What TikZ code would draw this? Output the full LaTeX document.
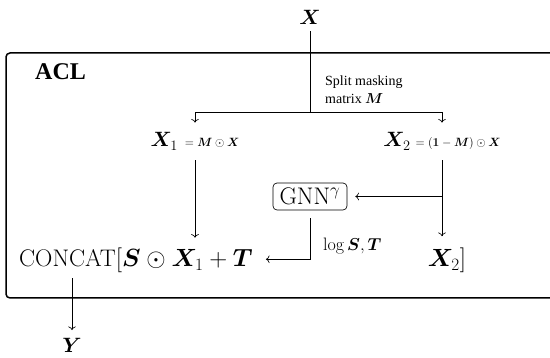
\documentclass[tikz,border=0pt]{standalone}
\usepackage{amsmath}
\usepackage{bm}
\usepackage{fontspec}
\newfontfamily\timesf{Liberation Serif}
\usetikzlibrary{arrows.meta,calc}
\newcommand{\myfs}[1]{\fontsize{#1}{#1}\selectfont}
\begin{document}
\begin{tikzpicture}[x=1pt,y=-1pt,
  >={To[scale=1.2]},
  conn/.style={line width=0.65pt},
  frame/.style={line width=1.5pt, rounded corners=4pt},
  big/.style={font=\myfs{22}, inner xsep=0pt},
  row/.style={font=\myfs{24}, inner sep=0pt, anchor=base west},
  gnnbox/.style={draw, line width=0.65pt, rounded corners=4pt, minimum width=74pt, minimum height=27pt, inner sep=0pt, font=\myfs{24}}
]
\useasboundingbox (0,0) rectangle (550,358);
\draw[frame] (6,53) rectangle (558,298);

\node[big, anchor=base, inner ysep=6pt] (X) at (310,25) {$\bm X$};
\node[anchor=base west, inner sep=0pt, font=\timesf\bfseries\myfs{24}] (acl) at (35,80) {ACL};
\node[anchor=base west, inner sep=0pt, align=left, font=\timesf\fontsize{14}{18}\selectfont] (lbl) at (325,104) {Split masking\\matrix $\bm M$};

\node[big, anchor=base, inner ysep=10pt] (X1) at (195,147) {$\bm X_1$\hspace{7pt}{\myfs{12}$=\bm M\odot\bm X$}};
\node[big, anchor=base, inner ysep=10pt] (X2) at (442,147) {$\bm X_2$\hspace{5pt}{\myfs{12}$=(\bm 1-\bm M)\odot\bm X$}};

\node[gnnbox] (gnn) at (310,196.5) {GNN$^\gamma$};

\node[row] (cc) at (19,267) {CONCAT$[\bm S\odot{}$};
\node[row, inner ysep=12pt] (cx1) at (cc.base east) {$\bm X_1$};
\node[row] (cpt) at (cx1.base east) {${}+\bm T$};
\node[font=\myfs{24}, anchor=base, inner xsep=0pt, inner ysep=12pt] (cx2) at (447,267) {$\bm X_2]$};

\node[anchor=west, inner sep=0pt, font=\myfs{18}] (lg) at (323,246) {$\log\bm S,\bm T$};

\node[big, anchor=base, inner ysep=8pt] (Y) at (72,352.5) {$\bm Y$};

\coordinate (split) at (310,112.5);
\draw[conn] (X.south) -- (split);
\draw[conn,->] (split) -| (X1.north);
\draw[conn,->] (split) -| (X2.north);
\draw[conn,->] (X1.south) -- (X1.south |- cx1.north);
\draw[conn,->] (X2.south) -- (X2.south |- cx2.north);
\draw[conn,->,shorten >=8pt] (X2.south |- gnn.east) -- (gnn.east);
\draw[conn,->,shorten <=8pt,shorten >=13pt] (gnn.south) |- (cpt.east);
\draw[conn,->] ($(Y.north |- cc.south)+(0,5)$) -- (Y.north);
\end{tikzpicture}
\end{document}
